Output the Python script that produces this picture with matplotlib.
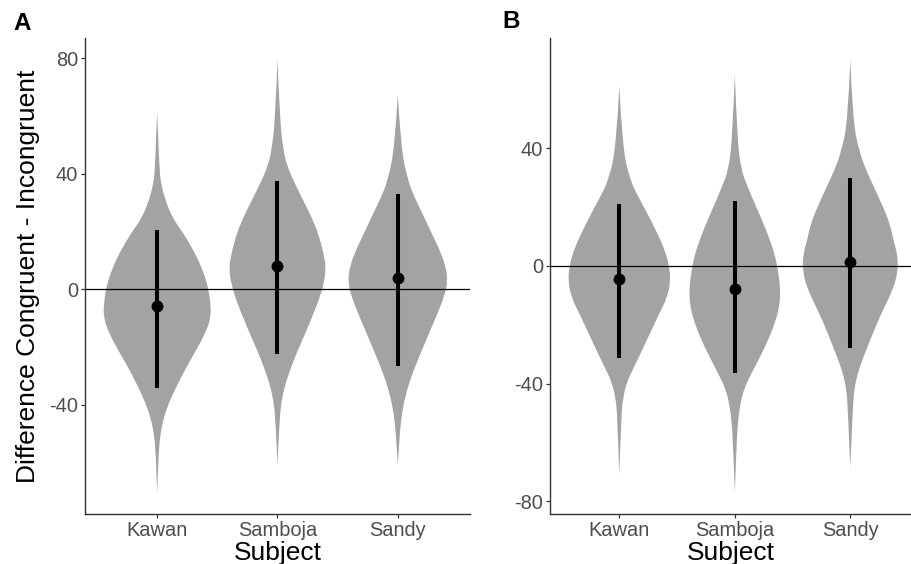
"""Violin plots of congruent - incongruent differences per subject (panels A and B)."""

import matplotlib

matplotlib.use("Agg")
import matplotlib.pyplot as plt
import numpy as np
from matplotlib.patches import PathPatch
from matplotlib.path import Path

plt.rcParams["font.family"] = ["Liberation Sans", "DejaVu Sans"]
plt.rcParams["axes.unicode_minus"] = False

subjects = ["Kawan", "Samboja", "Sandy"]

# violin profiles: value, half-width (in category units)
a_kawan_y = [61.5, 42.3, 36.5, 30.7, 24.9, 19.1, 13.3, 7.4, 1.6, -4.2, -10.0,
             -15.8, -21.6, -27.4, -33.2, -39.1, -44.9, -50.7, -56.5, -70.4]
a_kawan_w = [0.0, 0.017, 0.031, 0.069, 0.124, 0.221, 0.304, 0.371, 0.418, 0.442, 0.447,
             0.394, 0.318, 0.238, 0.166, 0.100, 0.051, 0.025, 0.012, 0.0]
a_samboja_y = [79.5, 59.7, 48.1, 42.3, 36.5, 30.7, 24.9, 19.1, 13.3, 7.4, 1.6,
               -4.2, -10.0, -15.8, -21.6, -27.4, -33.2, -39.1, -44.9, -60.7]
a_samboja_w = [0.0, 0.018, 0.048, 0.083, 0.145, 0.214, 0.284, 0.340, 0.378, 0.405, 0.383,
               0.340, 0.284, 0.226, 0.164, 0.110, 0.062, 0.032, 0.017, 0.0]
a_sandy_y = [67.3, 49.3, 37.7, 31.8, 26.0, 20.2, 14.4, 8.6, 2.8, -3.0, -8.8,
             -14.6, -20.5, -26.3, -32.1, -37.9, -43.7, -49.5, -60.7]
a_sandy_w = [0.0, 0.025, 0.083, 0.139, 0.207, 0.271, 0.339, 0.394, 0.417, 0.382, 0.326,
             0.267, 0.207, 0.149, 0.097, 0.058, 0.032, 0.017, 0.0]

b_kawan_y = [61.0, 40.5, 29.1, 23.4, 17.7, 12.0, 6.3, 0.6, -5.1, -10.8, -16.5,
             -22.2, -27.9, -33.6, -39.3, -45.0, -50.7, -71.0]
b_kawan_w = [0.0, 0.026, 0.094, 0.166, 0.245, 0.318, 0.385, 0.430, 0.444, 0.414, 0.342,
             0.274, 0.206, 0.137, 0.065, 0.032, 0.017, 0.0]
b_samboja_y = [65.0, 43.9, 32.5, 26.8, 21.1, 15.4, 9.7, 4.0, -1.7, -7.4, -13.1,
               -18.8, -24.5, -30.2, -35.9, -41.6, -47.3, -53.0, -58.7, -76.9]
b_samboja_w = [0.0, 0.020, 0.055, 0.113, 0.173, 0.238, 0.296, 0.346, 0.375, 0.394, 0.390,
               0.353, 0.296, 0.228, 0.152, 0.080, 0.045, 0.028, 0.017, 0.0]
b_sandy_y = [70.1, 49.0, 37.6, 31.9, 26.2, 20.5, 14.8, 9.1, 3.4, -2.3, -8.0,
             -13.7, -19.4, -25.1, -30.8, -36.5, -42.2, -47.9, -68.4]
b_sandy_w = [0.0, 0.020, 0.087, 0.145, 0.212, 0.279, 0.339, 0.372, 0.411, 0.411, 0.368,
             0.299, 0.231, 0.173, 0.115, 0.063, 0.033, 0.022, 0.0]

# mean and interval per subject
a_mean = [-6.0, 8.0, 3.9]
a_low = [-34.2, -22.5, -26.5]
a_high = [20.5, 37.4, 32.8]
b_mean = [-4.4, -7.9, 1.5]
b_low = [-31.3, -36.5, -27.9]
b_high = [21.1, 22.0, 29.9]

a_ticks = [-40, 0, 40, 80]
b_ticks = [-80, -40, 0, 40]

VIOLIN = "#A3A3A3"
TICK_GREY = "#4D4D4D"


def _bspline_segment(pts):
    """Quadratic B-spline through a point list: ends fixed, inner points as controls."""
    verts, codes = [], []
    for i in range(1, len(pts) - 1):
        if i < len(pts) - 2:
            nxt = ((pts[i][0] + pts[i + 1][0]) / 2, (pts[i][1] + pts[i + 1][1]) / 2)
        else:
            nxt = pts[i + 1]
        verts += [pts[i], nxt]
        codes += [Path.CURVE3, Path.CURVE3]
    return verts, codes


def violin_patch(x0, ys, ws):
    right = [(x0 + w, y) for y, w in zip(ys, ws)]
    left = [(x0 - w, y) for y, w in zip(ys, ws)][::-1]
    verts, codes = [right[0]], [Path.MOVETO]
    v, c = _bspline_segment(right)
    verts += v
    codes += c
    v, c = _bspline_segment(left)
    verts += v
    codes += c
    verts.append(right[0])
    codes.append(Path.CLOSEPOLY)
    return PathPatch(Path(verts, codes), facecolor=VIOLIN, edgecolor="none",
                     linewidth=0, zorder=1)


def draw_panel(ax, profiles, means, lows, highs, yticks):
    lo_all, hi_all = [], []
    for i, (ys, ws) in enumerate(profiles):
        ax.add_patch(violin_patch(i + 1, ys, ws))
        lo_all.append(min(ys))
        hi_all.append(max(ys))
    ax.axhline(0, color="black", linewidth=0.9, zorder=2)
    xs = np.arange(1, len(means) + 1)
    ax.vlines(xs, lows, highs, color="black", linewidth=2.9, zorder=3)
    ax.plot(xs, means, "o", color="black", markersize=7.5, zorder=4)

    lo, hi = min(lo_all), max(hi_all)
    pad = 0.05 * (hi - lo)
    ax.set_ylim(lo - pad, hi + pad)
    ax.set_yticks(yticks)
    ax.set_xticks(xs)
    ax.set_xticklabels(subjects)
    ax.set_xlabel("Subject", fontsize=19, labelpad=1)
    for side in ("top", "right"):
        ax.spines[side].set_visible(False)
    for side in ("left", "bottom"):
        ax.spines[side].set_color("#333333")
        ax.spines[side].set_linewidth(1.0)
    ax.tick_params(length=3, width=0.9, color="#333333", labelcolor=TICK_GREY,
                   labelsize=14.4, pad=2)


fig = plt.figure(figsize=(9.12, 5.64), dpi=100)
ax_a = fig.add_axes([85 / 912, 50 / 564, 385 / 912, 476 / 564])
ax_b = fig.add_axes([550 / 912, 50 / 564, 362 / 912, 476 / 564])

draw_panel(ax_a,
           [(a_kawan_y, a_kawan_w), (a_samboja_y, a_samboja_w), (a_sandy_y, a_sandy_w)],
           a_mean, a_low, a_high, a_ticks)
ax_a.set_xlim(0.4, 3.6)
ax_a.set_ylabel("Difference Congruent - Incongruent", fontsize=19)
ax_a.yaxis.set_label_coords(-0.117, 0.5)

draw_panel(ax_b,
           [(b_kawan_y, b_kawan_w), (b_samboja_y, b_samboja_w), (b_sandy_y, b_sandy_w)],
           b_mean, b_low, b_high, b_ticks)
ax_b.set_xlim(0.4, 0.4 + 362 / 115.5)

fig.text(13 / 912, 1 - 12 / 564, "A", fontsize=17.5, fontweight="bold", va="top", ha="left")
fig.text(502 / 912, 1 - 10 / 564, "B", fontsize=17.5, fontweight="bold", va="top", ha="left")

fig.savefig("out.png", dpi=100)
plt.close(fig)
